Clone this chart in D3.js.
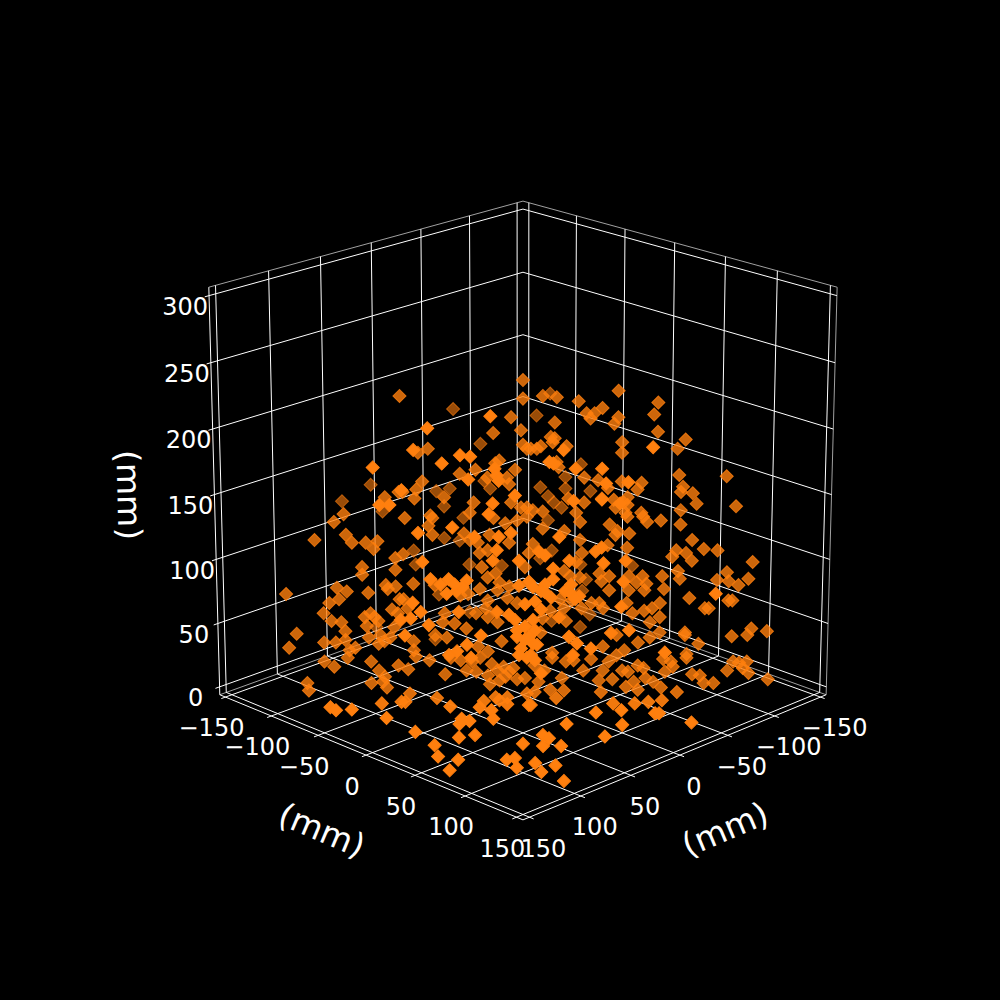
<!DOCTYPE html>
<html>
<head>
<meta charset="utf-8">
<script src="https://cdn.jsdelivr.net/npm/d3@7"></script>
<style>
  html, body { margin: 0; padding: 0; background: #000; }
  text { font-family: "DejaVu Sans"; fill: #fff; }
</style>
</head>
<body>
<svg id="chart" width="1000" height="1000"></svg>
<script>
var xTicks = [-150, -100, -50, 0, 50, 100, 150]
var yTicks = [-150, -100, -50, 0, 50, 100, 150]
var zTicks = [0, 50, 100, 150, 200, 250, 300]
var axisLabel = "(mm)"

// readings, in mm: [across the view, height]. the depth along the view
// can only be guessed from how dark a marker is, so they are kept in three layers
var rearDepth = -50, middleDepth = 0, nearDepth = 50

var rearPoints = [[-79,132],[-94,119],[-73,111],[-36,191],[-22,164],[-20,135],[-17,129],[-38,129],[-45,127],[-41,115],
    [14,203],[7,186],[30,148],[22,138],[9,130],[22,129],[13,123],[35,127],[16,118],[20,114],
    [-77,19],[-31,106],[-41,90],[-33,88],[-57,80],[-56,69],[-28,69],[-11,68],[-44,45],[-28,31],[-46,9],
    [13,104],[9,74],[15,80],[30,69],[57,68],[33,57],[31,48],[15,24],[35,29],[30,19]]

var middlePoints = [[-91,135],[-70,148],[-62,225],[-63,152],[-6,209],[0,223],[0,237],[-1,199],[-15,197],[-48,185],[-53,182],
    [0,188],[2,185],[-12,176],[-14,174],[-32,166],[-24,169],[-4,169],[-51,160],[-61,152],[-18,163],[-8,163],[-7,158],
    [-55,147],[-54,154],[-40,148],[-6,144],[-1,140],[-25,144],[2,140],[-47,134],[-27,136],
    [10,225],[17,224],[28,221],[48,229],[16,205],[32,212],[34,208],[36,212],[40,216],[48,209],[46,204],[66,211],[68,220],[68,198],
    [14,194],[16,193],[15,190],[9,187],[7,185],[4,185],[22,187],[50,190],[50,182],[17,175],[18,171],[31,163],[38,161],[50,160],
    [60,159],[58,154],[43,155],[23,147],[31,144],[40,147],[46,146],[53,148],[10,137],[5,138],[51,144],[47,140],[53,142],[27,136],[60,136],[52,136],
    [82,192],[78,185],[79,165],[103,164],[81,156],[80,152],[86,151],[88,143],[108,141],[80,138],
    [-106,115],[-96,129],[-90,119],[-87,113],[-80,113],[-74,114],[-76,108],[-65,101],[-65,92],[-82,94],[-82,88],[-95,78],[-90,75],[-94,69],
    [-79,74],[-70,80],[-69,77],[-65,79],[-121,73],[-99,66],[-102,58],[-98,52],[-93,51],[-67,61],[-78,58],[-81,55],[-76,55],[-74,52],[-80,48],
    [-91,44],[-116,42],[-120,31],[-102,35],[-96,35],[-91,37],[-79,39],[-73,41],[-66,47],[-68,39],[-71,36],[-74,34],[-86,31],[-89,29],[-63,69],[-64,58],
    [-60,132],[-48,126],[-46,132],[-46,119],[-30,120],[-27,115],[-23,113],[-17,119],[-15,132],[-9,128],[-3,130],[2,133],[-7,113],[-18,107],[-22,105],
    [-61,104],[-21,94],[-14,89],[3,105],[1,94],[-18,86],[-56,81],[-45,80],[-22,77],[-12,82],[-7,79],[-13,76],[-32,72],[-61,69],[-28,73],[-8,70],[-18,68],[-3,66],
    [-59,62],[-19,62],[-40,58],[-24,58],[-18,55],[-41,51],[-35,50],[-13,51],[-29,46],[-45,41],[-39,39],[-56,36],[-11,36],[-56,29],[-23,32],[-18,28],
    [29,129],[44,127],[48,122],[54,120],[53,133],[61,133],[63,129],[10,124],[21,122],[29,115],[43,111],[47,119],[53,109],[5,112],[30,105],[27,98],
    [21,91],[24,87],[39,89],[44,87],[61,87],[54,87],[29,86],[40,83],[58,82],[63,81],[62,76],[54,76],[44,76],[53,66],[35,66],[39,66],[25,68],[19,69],
    [30,62],[21,62],[14,60],[41,62],[62,60],[56,58],[66,62],[10,54],[22,52],[65,51],[48,41],[9,43],[41,32],[59,35],[15,27],[52,29],[65,39],
    [80,127],[70,130],[86,115],[92,108],[99,107],[78,107],[76,102],[83,105],[86,99],[117,98],[79,91],[71,87],[80,85],[104,90],[99,84],[105,83],[115,85],[110,80],
    [72,77],[85,70],[70,66],[105,68],[107,68],[93,62],[95,62],[70,55],[117,46],[115,41],[125,44],[107,40],[83,43],[83,41],[70,43],[90,34],[84,26],
    [-102,20],[-97,16],[-90,23],[-78,20],[-111,3],[-74,13],[-71,8],[-72,4],[-78,3],[-64,17],
    [-59,14],[-48,21],[-55,24],[-37,23],[-32,21],[-26,20],[-22,23],[-40,10],[-29,13],[-24,12],[-16,18],[-18,9],[-10,16],[-5,15],[-9,8],[-12,5],[-3,6],[1,7],[-17,2],
    [6,17],[11,13],[15,23],[22,20],[26,21],[31,13],[35,22],[20,7],[39,5],[41,13],[46,6],[51,13],[59,17],[63,7],[57,4],[8,4],[67,4],
    [72,22],[76,20],[77,16],[73,12],[84,23],[108,20],[111,19],[115,20],[113,15],[116,11],[105,13],[126,6],[87,10],[91,9],[93,3],[98,3],
    [44,20],[54,12],[62,15],[48,25],[-7,12],[-13,13]]

var nearPoints = [[-74,196],[-71,168],[-66,168],[-47,225],[-16,234],[-54,209],[-31,205],[-26,204],[-40,199],[-14,195],[-27,187],[-60,179],
    [-13,190],[-12,186],[-4,175],[-15,169],[-17,161],[20,209],[64,211],[15,199],[13,200],[26,195],[39,195],[41,184],[52,185],[25,171],[39,172],[48,169],
    [96,101],[-52,147],[-35,151],[-24,144],[-12,144],[-6,147],[-13,134],[-15,126],[-50,125],[-2,126],[-46,112],[-37,112],[-41,108],[-28,111],
    [-33,103],[-30,106],[-2,107],[3,110],[-55,94],[1,93],[-51,87],[-32,87],[-13,87],[-56,82],[-61,81],[-47,77],[1,76],[-3,73],[-59,69],[-21,69],[-3,68],
    [-28,62],[-1,59],[-33,57],[-37,54],[-26,52],[2,52],
    [18,144],[39,136],[36,133],[8,133],[11,130],[23,126],[40,124],[51,126],[15,120],[15,112],[50,110],[11,108],[9,103],[5,106],[21,103],[24,101],[28,99],
    [6,95],[14,98],[49,91],[18,83],[5,81],[53,73],[44,71],[23,68],[27,63],[5,63],[34,59],[25,54],[71,56],
    [6,73],[7,62],[4,54],[9,89],[3,68],[11,102],[-34,108],[-38,101],[24,108],[26,97],[6,50],[9,40],[-2,54],[1,66],[-4,81],[-7,85]]

// markers that sit on the floor in front of the middle layer: [across the view, depth]
var floorPoints = [[-110,5],[-70,1],[-72,22],[-98,27],[-95,31],[-87,30],[-69,41],[-62,20],
    [-58,9],[-60,20],[-44,15],[-37,26],[-22,27],[-20,19],[-14,14],[-12,18],[-8,14],[-8,23],[-16,31],[2,9],[3,24],[-15,42],[-31,42],[-32,49],[-27,45],
    [-54,59],[-32,66],[-24,63],[-44,76],[0,74],[-42,90],[-32,94],[-36,107],[-8,94],[-4,92],[-3,104],
    [53,0],[59,4],[14,4],[6,7],[21,5],[17,15],[40,7],[4,24],[57,22],[64,20],[46,22],[50,31],[37,34],[67,35],[22,49],[50,50],[41,65],[10,63],[13,67],[10,77],[19,77],
    [6,98],[16,101],[9,109],[20,120],[71,1],[79,7],[71,18],[69,35],[85,47]]

var svg = d3.select("#chart")
svg.append("rect").attr("width", 1000).attr("height", 1000).attr("fill", "#000")

// ----- camera, same set up as a 3d plot ----- //
var elev = 20 * Math.PI / 180, azim = 45 * Math.PI / 180, dist = 10
var xUnit = d3.scaleLinear().domain([-150, 150]).range([0, 1])
var yUnit = d3.scaleLinear().domain([-150, 150]).range([0, 1])
var zUnit = d3.scaleLinear().domain([0, 300]).range([0, 1])
var screenX = d3.scaleLinear().domain([-0.095, 0.09]).range([125, 900])
var screenY = d3.scaleLinear().domain([-0.095, 0.09]).range([890, 120])

function project(x, y, z) {
    var u = xUnit(x) - 0.5, v = yUnit(y) - 0.5, w = zUnit(z) - 0.5
    var right = -u * Math.sin(azim) + v * Math.cos(azim)
    var up = -u * Math.cos(azim) * Math.sin(elev) - v * Math.sin(azim) * Math.sin(elev) + w * Math.cos(elev)
    var toward = u * Math.cos(azim) * Math.cos(elev) + v * Math.sin(azim) * Math.cos(elev) + w * Math.sin(elev)
    var f = dist - toward
    return [screenX(right / f), screenY(up / f)]
}

var line = d3.line()
var pad = 300 / 48
var xLo = -150 - pad, xHi = 150 + pad, yLo = -150 - pad, yHi = 150 + pad, zLo = 0 - pad, zHi = 300 + pad
var tickOut = 4
var grid = svg.append("g").attr("fill", "none")

function seg(a, b, color) {
    grid.append("path").attr("d", line([project(a[0], a[1], a[2]), project(b[0], b[1], b[2])]))
        .attr("stroke", color).attr("stroke-width", 1)
}

// ----- pane edges ----- //
var paneColor = "#a0a0a0"
seg([xLo, yLo, zHi], [xLo, yHi, zHi], paneColor)
seg([xLo, yLo, zHi], [xHi, yLo, zHi], paneColor)
seg([xLo, yHi, zLo], [xLo, yHi, zHi], paneColor)
seg([xLo, yLo, zLo], [xLo, yHi, zLo], paneColor)
seg([xLo, yLo, zLo], [xHi, yLo, zLo], paneColor)

// ----- grid and ticks ----- //
xTicks.forEach(function (t) {
    seg([t, yLo, zHi], [t, yLo, zLo], "#fff")
    seg([t, yLo, zLo], [t, yHi + tickOut, zLo], "#fff")
})
yTicks.forEach(function (t) {
    seg([xLo, t, zHi], [xLo, t, zLo], "#fff")
    seg([xLo, t, zLo], [xHi + tickOut, t, zLo], "#fff")
})
zTicks.forEach(function (t) {
    seg([xLo, yHi, t], [xLo, yLo, t], "#fff")
    seg([xLo, yLo, t], [xHi + tickOut, yLo, t], "#fff")
})
seg([xLo, yHi, zLo], [xHi, yHi, zLo], "#fff")
seg([xHi, yLo, zLo], [xHi, yHi, zLo], "#fff")
seg([xHi, yLo, zLo], [xHi, yLo, zHi], "#fff")

// ----- points ----- //
function toPoint(across, depth, height) {
    return { x: depth - across, y: depth + across, z: height, depth: depth }
}
var points = []
rearPoints.forEach(function (d) { points.push(toPoint(d[0], rearDepth, d[1])) })
middlePoints.forEach(function (d) { points.push(toPoint(d[0], middleDepth, d[1])) })
nearPoints.forEach(function (d) { points.push(toPoint(d[0], nearDepth, d[1])) })
floorPoints.forEach(function (d) { points.push(toPoint(d[0], d[1], 0)) })
points.sort(function (a, b) { return a.depth - b.depth })

var shade = d3.scaleLinear().domain([-50, 0, 30]).range([0.6, 0.8, 1]).clamp(true)
var marker = d3.symbol().type(d3.symbolSquare).size(86)

svg.append("g").selectAll("path")
    .data(points)
    .enter()
    .append("path")
    .attr("d", marker)
    .attr("transform", function (d) {
        var p = project(d.x, d.y, d.z)
        return "translate(" + p[0] + "," + p[1] + ") rotate(45)"
    })
    .attr("fill", "#ff7f0e")
    .attr("stroke", "#ff7f0e")
    .attr("stroke-width", 1)
    .attr("fill-opacity", function (d) { return shade(d.depth) })
    .attr("stroke-opacity", function (d) { return shade(d.depth) })

// ----- tick labels ----- //
function tickText(t) { return d3.format("d")(t).replace("-", "\u2212") }
function putTick(p, dx, dy, t) {
    svg.append("text").attr("x", p[0] + dx).attr("y", p[1] + dy)
        .attr("dy", ".35em").attr("text-anchor", "middle").attr("font-size", 24).text(tickText(t))
}
yTicks.forEach(function (t) { putTick(project(xHi, t, zLo), -14, 31, t) })
xTicks.forEach(function (t) { putTick(project(t, yHi, zLo), 14, 31, t) })
zTicks.forEach(function (t) { putTick(project(xHi, yLo, t), -24, 11, t) })

// ----- axis labels ----- //
function putLabel(x, y, angle) {
    svg.append("text").attr("transform", "translate(" + x + "," + y + ") rotate(" + angle + ")")
        .attr("dy", ".35em").attr("text-anchor", "middle").attr("font-size", 33).text(axisLabel)
}
putLabel(322, 830, 22.9)
putLabel(725, 829, -22.9)
putLabel(129, 495, 88.6)
</script>
</body>
</html>
